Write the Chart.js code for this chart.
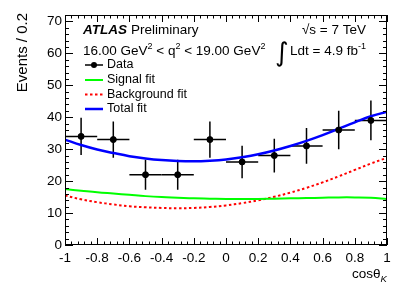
<!DOCTYPE html>
<html>
<head>
<meta charset="utf-8">
<script src="https://cdn.jsdelivr.net/npm/chart.js@4/dist/chart.umd.min.js"></script>
<style>
  html, body { margin: 0; padding: 0; background: #fff; }
  #wrap { width: 407px; height: 292px; }
</style>
</head>
<body>
<div id="wrap"><canvas id="c" width="407" height="292"></canvas></div>
<script>
// binned data (cos theta_K)
const binCenters = [-0.9, -0.7, -0.5, -0.3, -0.1, 0.1, 0.3, 0.5, 0.7, 0.9];
const binWidth = 0.2;
const dataCounts = [34, 33, 22, 22, 33, 26, 28, 31, 36, 39];
const dataErrors = [5.8, 5.7, 4.7, 4.7, 5.7, 5.1, 5.3, 5.6, 6.0, 6.2];

// fit curves sampled along cos theta_K
const fitX = [-1, -0.9, -0.8, -0.7, -0.6, -0.5, -0.4, -0.3, -0.2, -0.1, 0, 0.1, 0.2, 0.3, 0.4, 0.5, 0.6, 0.7, 0.8, 0.9, 1];
const signalFit = [17.5, 17.0, 16.5, 16.1, 15.7, 15.3, 15.0, 14.8, 14.6, 14.5, 14.4, 14.4, 14.4, 14.5, 14.6, 14.7, 14.8, 14.9, 14.9, 14.8, 14.4];
const backgroundFit = [15.5, 14.3, 13.4, 12.7, 12.1, 11.8, 11.6, 11.5, 11.6, 11.9, 12.4, 13.1, 14.0, 15.1, 16.4, 17.9, 19.6, 21.5, 23.5, 25.5, 27.3];
const totalFit = [33.0, 31.3, 29.9, 28.8, 27.8, 27.1, 26.6, 26.3, 26.2, 26.4, 26.8, 27.5, 28.4, 29.6, 31.0, 32.6, 34.4, 36.4, 38.4, 40.3, 41.7];

const yMin = 0, yMax = 72;
const FONT = '"Liberation Sans", Arial, Helvetica, sans-serif';

const toXY = (xs, ys) => xs.map((x, i) => ({ x: x, y: ys[i] }));

// ROOT style frame with inward ticks, error bars, legend and labels
const rootStyle = {
    id: 'rootStyle',
    beforeDatasetsDraw(chart) {
        const ctx = chart.ctx;
        const xs = chart.scales.x, ys = chart.scales.y;
        ctx.save();
        ctx.strokeStyle = '#000';
        ctx.lineWidth = 1.5;
        binCenters.forEach((c, i) => {
            const px = xs.getPixelForValue(c);
            const py = ys.getPixelForValue(dataCounts[i]);
            ctx.beginPath();
            ctx.moveTo(xs.getPixelForValue(c - binWidth / 2), py);
            ctx.lineTo(xs.getPixelForValue(c + binWidth / 2), py);
            ctx.moveTo(px, ys.getPixelForValue(dataCounts[i] - dataErrors[i]));
            ctx.lineTo(px, ys.getPixelForValue(dataCounts[i] + dataErrors[i]));
            ctx.stroke();
        });
        ctx.restore();
    },
    afterDraw(chart) {
        const ctx = chart.ctx;
        const a = chart.chartArea;
        const xs = chart.scales.x, ys = chart.scales.y;
        ctx.save();
        ctx.strokeStyle = '#000';
        ctx.lineWidth = 1;
        ctx.strokeRect(a.left + 0.5, a.top + 0.5, a.right - a.left - 1, a.bottom - a.top - 1);

        ctx.beginPath();
        for (let i = 0; i <= 50; i++) {
            const px = Math.round(xs.getPixelForValue(-1 + i * 0.04)) + 0.5;
            const len = i % 5 === 0 ? 7 : 3.5;
            ctx.moveTo(px, a.bottom);
            ctx.lineTo(px, a.bottom - len);
            ctx.moveTo(px, a.top);
            ctx.lineTo(px, a.top + len);
        }
        for (let i = 0; i <= 36; i++) {
            const py = Math.round(ys.getPixelForValue(i * 2)) + 0.5;
            const len = i % 5 === 0 ? 8 : 4;
            ctx.moveTo(a.left, py);
            ctx.lineTo(a.left + len, py);
            ctx.moveTo(a.right, py);
            ctx.lineTo(a.right - len, py);
        }
        ctx.stroke();

        // legend
        const ds = chart.data.datasets;
        const legendOrder = [0, 1, 2, 3];
        const rowY = [65, 80, 94.5, 109];
        ctx.font = '12.5px ' + FONT;
        ctx.textBaseline = 'middle';
        ctx.textAlign = 'left';
        legendOrder.forEach((k, r) => {
            const d = ds[k];
            const y = rowY[r];
            ctx.save();
            ctx.beginPath();
            ctx.strokeStyle = d.borderColor;
            ctx.lineWidth = k === 0 ? 1.5 : d.borderWidth;
            ctx.setLineDash(d.borderDash || []);
            ctx.moveTo(85, y);
            ctx.lineTo(103, y);
            ctx.stroke();
            if (k === 0) {
                ctx.fillStyle = '#000';
                ctx.beginPath();
                ctx.arc(94, y, 3, 0, Math.PI * 2);
                ctx.fill();
            }
            ctx.restore();
            ctx.fillStyle = '#000';
            ctx.fillText(d.label, 107, y);
        });

        // ATLAS label
        ctx.fillStyle = '#000';
        ctx.textBaseline = 'alphabetic';
        ctx.font = 'italic bold 13.5px ' + FONT;
        ctx.fillText('ATLAS', 83, 34);
        const wAtlas = ctx.measureText('ATLAS').width;
        ctx.font = '13.5px ' + FONT;
        ctx.fillText('Preliminary', 83 + wAtlas + 4, 34);

        // q2 range with superscripts
        drawRich(ctx, [
            ['16.00 GeV', 0], ['2', 1], [' < q', 0], ['2', 1],
            [' < 19.00 GeV', 0], ['2', 1]
        ], 83, 55);

        // energy and luminosity
        ctx.font = '13.5px ' + FONT;
        ctx.textAlign = 'right';
        ctx.fillText('\u221As = 7 TeV', 366, 34);
        ctx.textAlign = 'left';
        ctx.font = '26px "DejaVu Sans", ' + FONT;
        ctx.fillText('\u222B', 275, 61);
        drawRich(ctx, [['Ldt = 4.9 fb', 0], ['-1', 1]], 290, 55);

        // axis titles
        ctx.font = '15px ' + FONT;
        ctx.save();
        ctx.translate(27, 13);
        ctx.rotate(-Math.PI / 2);
        ctx.textAlign = 'right';
        ctx.fillText('Events / 0.2', 0, 0);
        ctx.restore();
        ctx.font = '13.5px ' + FONT;
        ctx.textAlign = 'left';
        ctx.fillText('cos\u03B8', 352, 278);
        const wc = ctx.measureText('cos\u03B8').width;
        ctx.font = 'italic 9.5px ' + FONT;
        ctx.fillText('K', 352 + wc, 282);
        ctx.restore();
    }
};

function drawRich(ctx, parts, x, y) {
    let cx = x;
    ctx.textAlign = 'left';
    parts.forEach(p => {
        ctx.font = (p[1] ? '9px ' : '13.5px ') + FONT;
        ctx.fillText(p[0], cx, p[1] ? y - 6 : y);
        cx += ctx.measureText(p[0]).width;
    });
}

new Chart(document.getElementById('c'), {
    type: 'scatter',
    data: {
        datasets: [{
            label: 'Data',
            data: toXY(binCenters, dataCounts),
            backgroundColor: '#000',
            borderColor: '#000',
            pointRadius: 3,
            showLine: false
        }, {
            label: 'Signal fit',
            data: toXY(fitX, signalFit),
            borderColor: '#00ff00',
            borderWidth: 2,
            showLine: true,
            tension: 0.4,
            pointRadius: 0
        }, {
            label: 'Background fit',
            data: toXY(fitX, backgroundFit),
            borderColor: '#ff0000',
            borderWidth: 2,
            borderDash: [2.5, 2.5],
            showLine: true,
            tension: 0.4,
            pointRadius: 0
        }, {
            label: 'Total fit',
            data: toXY(fitX, totalFit),
            borderColor: '#0000ff',
            borderWidth: 2.5,
            showLine: true,
            tension: 0.4,
            pointRadius: 0
        }]
    },
    options: {
        responsive: false,
        animation: false,
        layout: {
            padding: { left: 0, right: 20, top: 15, bottom: 0 }
        },
        plugins: {
            legend: { display: false },
            tooltip: { enabled: false }
        },
        scales: {
            x: {
                type: 'linear',
                min: -1,
                max: 1,
                grid: { display: false, drawTicks: false },
                border: { display: false },
                afterFit: s => { s.height = 47; },
                ticks: {
                    stepSize: 0.2,
                    padding: 5,
                    color: '#000',
                    font: { family: FONT, size: 13.5 },
                    maxRotation: 0,
                    callback: v => Math.abs(v) < 1e-9 ? '0' : String(+v.toFixed(1))
                }
            },
            y: {
                min: yMin,
                max: yMax,
                grid: { display: false, drawTicks: false },
                border: { display: false },
                afterFit: s => { s.width = 65; },
                ticks: {
                    stepSize: 10,
                    includeBounds: false,
                    padding: 3,
                    color: '#000',
                    font: { family: FONT, size: 13.5 }
                }
            }
        }
    },
    plugins: [rootStyle]
});
</script>
</body>
</html>
